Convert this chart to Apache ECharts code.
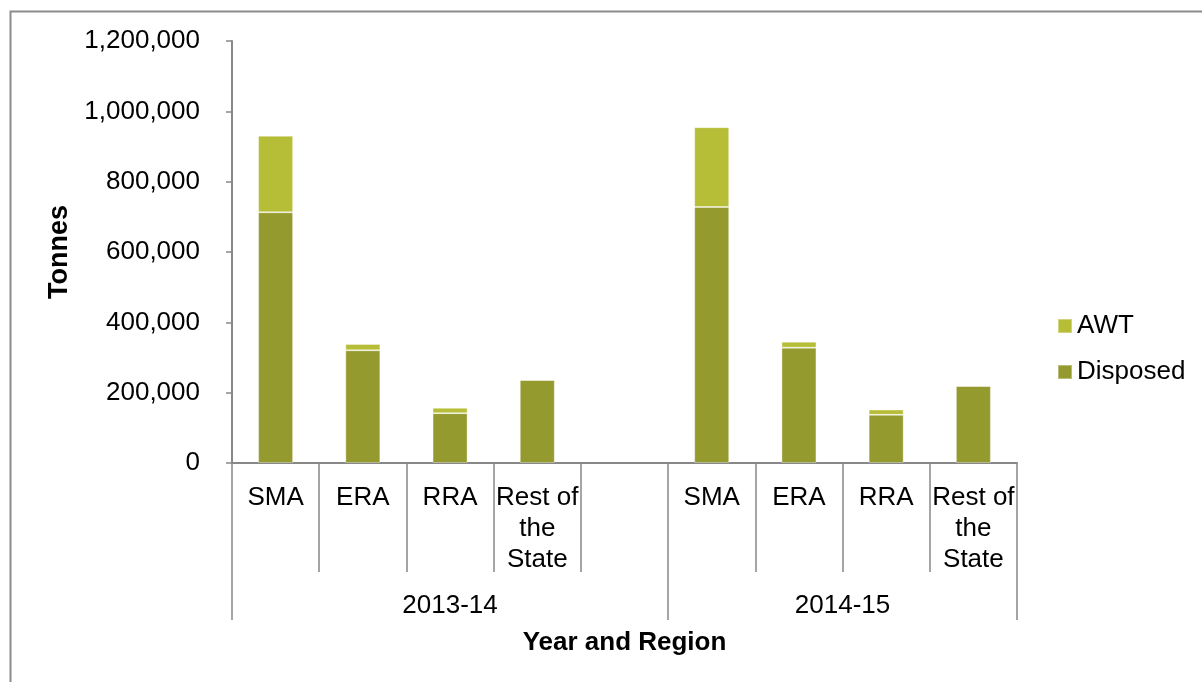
<!DOCTYPE html>
<html>
<head>
<meta charset="utf-8">
<title>Tonnes by Year and Region</title>
<script src="https://cdn.jsdelivr.net/npm/echarts@6/dist/echarts.min.js"></script>
<style>
  html, body { margin: 0; padding: 0; background: #fff; }
  #chart { width: 1202px; height: 682px; }
</style>
</head>
<body>
<div id="chart"></div>
<script>
// Region slots along the x axis (empty slot separates the two years)
const regions = ['SMA', 'ERA', 'RRA', 'Rest of the State', '', 'SMA', 'ERA', 'RRA', 'Rest of the State']
const disposed = [713000, 320600, 141800, 236300, null, 728000, 328000, 137000, 219300]
const awt = [217500, 17800, 15100, 0, null, 227000, 17000, 15000, 0]

// Year groups: label and the slot range [start, end) they cover
const years = ['2013-14', '2014-15']
const yearStart = [0, 5]
const yearEnd = [5, 9]

const yTicks = [0, 200000, 400000, 600000, 800000, 1000000, 1200000]

const axisGray = '#888888'
const font = 'Liberation Sans, Arial, sans-serif'

const chart = echarts.init(document.getElementById('chart'))

const yearMid = years.map((y, i) => (yearStart[i] + yearEnd[i]) / 2)
const yearBounds = yearStart.concat([yearEnd[yearEnd.length - 1]])

chart.setOption({
  animation: false,
  textStyle: { fontFamily: font },
  graphic: [
    {
      type: 'rect',
      shape: { x: 10.5, y: 11.5, width: 1300, height: 800 },
      style: { fill: 'none', stroke: '#8c8c8c', lineWidth: 2 },
      silent: true
    }
  ],
  grid: { left: 232, right: 185, top: 41, bottom: 219 },
  legend: {
    orient: 'vertical',
    left: 1052,
    top: 308,
    padding: 5,
    itemWidth: 14,
    itemHeight: 14,
    itemGap: 20,
    icon: 'rect',
    data: ['AWT', 'Disposed'],
    textStyle: { fontSize: 26, color: '#000', fontFamily: font }
  },
  xAxis: [
    {
      type: 'category',
      data: regions,
      position: 'bottom',
      name: 'Year and Region',
      nameLocation: 'middle',
      nameGap: 167,
      nameTextStyle: { fontSize: 26, fontWeight: 'bold', color: '#000', fontFamily: font },
      axisLine: { lineStyle: { color: axisGray, width: 2 } },
      axisTick: { show: true, interval: 0, length: 109, lineStyle: { color: axisGray, width: 1.5 } },
      axisLabel: {
        interval: 0,
        fontSize: 26,
        lineHeight: 31,
        color: '#000',
        margin: 19,
        width: 87,
        overflow: 'break',
        fontFamily: font
      }
    },
    {
      // second level of the category axis: the year groups
      type: 'value',
      position: 'bottom',
      min: 0,
      max: regions.length,
      axisLine: { show: false },
      splitLine: { show: false },
      axisTick: {
        show: true,
        customValues: yearBounds,
        length: 157,
        lineStyle: { color: axisGray, width: 1.5 }
      },
      axisLabel: {
        customValues: yearMid,
        formatter: (v) => years[yearMid.indexOf(v)] || '',
        fontSize: 26,
        color: '#000',
        margin: 130,
        fontFamily: font
      }
    }
  ],
  yAxis: {
    type: 'value',
    min: 0,
    max: yTicks[yTicks.length - 1],
    interval: yTicks[1] - yTicks[0],
    name: 'Tonnes',
    nameLocation: 'middle',
    nameGap: 158,
    nameTextStyle: { fontSize: 27, fontWeight: 'bold', color: '#000', fontFamily: font },
    axisLine: { show: true, lineStyle: { color: axisGray, width: 2 } },
    axisTick: { show: true, length: 6, lineStyle: { color: axisGray, width: 1.5 } },
    splitLine: { show: false },
    axisLabel: {
      fontSize: 26,
      color: '#000',
      margin: 32,
      fontFamily: font,
      formatter: (v) => v.toLocaleString('en-US')
    }
  },
  series: [
    {
      name: 'Disposed',
      type: 'bar',
      stack: 'total',
      barWidth: 35,
      data: disposed,
      itemStyle: { color: '#959a2e', borderColor: 'rgba(255,255,255,0.35)', borderWidth: 1 }
    },
    {
      name: 'AWT',
      type: 'bar',
      stack: 'total',
      barWidth: 35,
      data: awt,
      itemStyle: { color: '#b6bd37', borderColor: 'rgba(255,255,255,0.35)', borderWidth: 1 }
    }
  ]
})
</script>
</body>
</html>
